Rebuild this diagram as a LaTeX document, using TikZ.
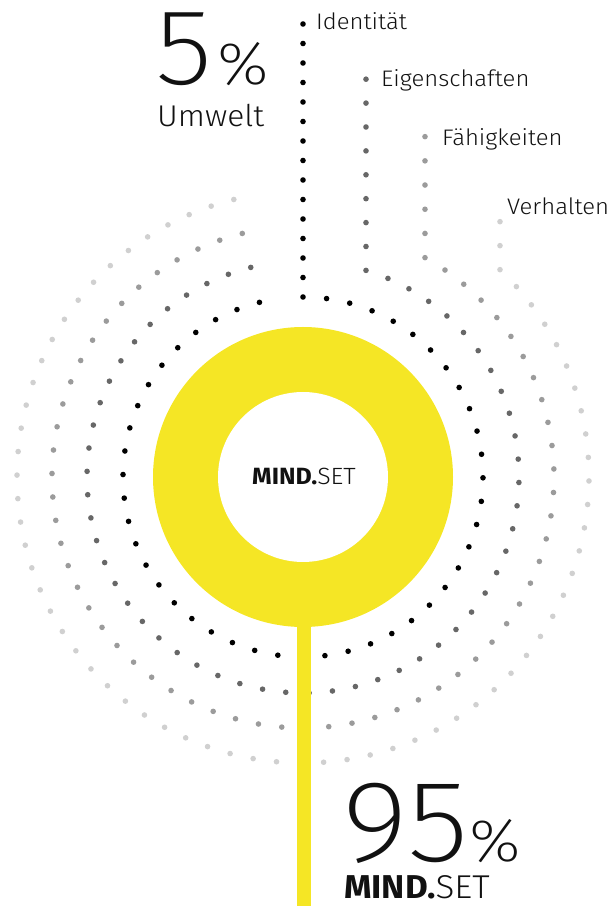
\documentclass[tikz,border=0pt]{standalone}
\usepackage{fontspec}
\setmainfont{Fira Sans}[UprightFont={* Light},BoldFont={* Bold},FakeStretch=1.06]
\newfontfamily\numfont{Fira Sans}[UprightFont={* ExtraLight},FakeStretch=1.1]
\usetikzlibrary{positioning}
\definecolor{MindYellow}{HTML}{F5E625}
\definecolor{RingA}{HTML}{000000}
\definecolor{RingB}{HTML}{676767}
\definecolor{RingC}{HTML}{9B9B9B}
\definecolor{RingD}{HTML}{D0D0D0}
\definecolor{MindInk}{HTML}{111111}

\begin{document}
\begin{tikzpicture}[x=1pt, y=1pt,
    dot/.style={fill=#1, draw=none},
    tagtext/.style={anchor=base west, inner sep=0pt, text=MindInk,
                    font=\fontsize{22.5}{22.5}\selectfont},
    bignum/.style={anchor=base west, inner sep=0pt, text=MindInk}
]
\useasboundingbox (0,0) rectangle (610,906);
\coordinate (ctr) at (303,429);

\foreach \r/\dx/\col/\vs/\vn in {180/0/RingA/19.5/14, 216/63/RingB/23.9/8,
                                  251/122/RingC/24.2/5, 286/197/RingD/24/2}{
  \pgfmathsetmacro{\astart}{acos(\dx/\r)}
  \pgfmathtruncatemacro{\nd}{round((\astart+256)*pi/180*\r/23.5)}
  \pgfmathsetmacro{\astep}{(\astart+256)/\nd}
  \foreach \k in {0,...,\nd}
    \fill[dot=\col] (ctr) ++(\astart-\k*\astep:\r) circle (2.8);
  \foreach \k in {1,...,\vn}
    \fill[dot=\col] (ctr) ++(\astart:\r) ++(0,\k*\vs) circle (2.8);
}

\fill[MindYellow] (ctr) circle (150);
\fill[white] (ctr) circle (85);
\fill[MindYellow] (297,0) rectangle (311,290);

\node[font=\fontsize{23.5}{23.5}\selectfont, text=MindInk] (core) at (304,429)
    {\textbf{MIND.}SET};

\node[tagtext] (identitaet) at (316,876) {Identität};
\node[tagtext] (eigenschaften) at (381,819) {Eigenschaften};
\node[tagtext] (faehigkeiten) at (442,760) {Fähigkeiten};
\node[tagtext] (verhalten) at (507,691) {Verhalten};

\node[bignum, font=\numfont\fontsize{108}{108}\selectfont] (umweltnum) at (155,821) {5};
\node[bignum, font=\numfont\fontsize{60}{60}\selectfont, xshift=5pt] (umweltpct)
    at (umweltnum.base east) {\%};
\node[bignum, font=\fontsize{30}{30}\selectfont] (umwelt) at (157,779) {Umwelt};

\node[bignum, font=\numfont\fontsize{116}{116}\selectfont] (mindnum) at (342,44) {95};
\node[bignum, font=\numfont\fontsize{60}{60}\selectfont, xshift=0pt] (mindpct)
    at (mindnum.base east) {\%};
\node[bignum, font=\fontsize{33}{33}\selectfont] (mindname) at (344,8)
    {\textbf{MIND.}SET};
\end{tikzpicture}
\end{document}
